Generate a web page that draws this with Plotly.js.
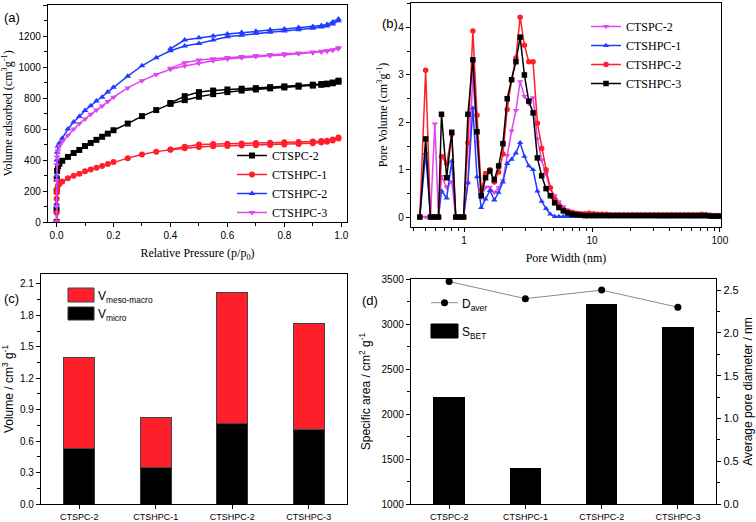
<!DOCTYPE html>
<html><head><meta charset="utf-8">
<script src="https://cdn.plot.ly/plotly-3.0.1.min.js"></script>
<style>html,body{margin:0;padding:0;background:#fff}#chart{width:756px;height:522px}</style>
</head><body><div id="chart"></div>
<script>
// ---------- Panel (a): N2 isotherms ----------
const pAds = [0.00001,0.0001,0.0005,0.001,0.002,0.005,0.01,0.02,0.04,0.06,0.08,0.1,0.12,0.14,0.16,0.18,0.2,0.25,0.3,0.35,0.4,0.45,0.5,0.55,0.6,0.65,0.7,0.75,0.8,0.85,0.9,0.93,0.95,0.97,0.99];
const pDes = [0.99,0.97,0.95,0.93,0.9,0.85,0.8,0.75,0.7,0.65,0.6,0.55,0.5,0.45,0.4];
const ctspc2Ads  = [0,80,200,280,330,360,375,395,420,445,465,490,510,530,550,570,592,635,683,722,762,786,808,825,838,848,855,862,868,873,880,885,889,895,905];
const ctspc2Des  = [912,900,893,890,886,880,875,870,864,860,855,848,838,812,768];
const ctshpc1Ads = [0,60,150,190,215,235,245,262,282,298,312,328,338,350,362,375,387,412,435,454,466,476,484,488,491,493,495,497,500,504,508,513,518,526,538];
const ctshpc1Des = [545,532,525,522,520,516,514,511,509,507,505,503,500,486,468];
const ctshpc2Ads = [0,120,300,400,450,490,510,540,600,645,680,720,750,780,805,838,870,941,1008,1060,1105,1135,1152,1174,1195,1205,1217,1225,1232,1240,1250,1258,1265,1278,1298];
const ctshpc2Des = [1310,1290,1275,1268,1262,1255,1245,1238,1230,1222,1213,1200,1189,1174,1118];
const ctshpc3Ads = [0,100,270,370,420,460,490,520,560,600,635,665,695,722,748,778,805,865,912,952,985,1006,1025,1040,1052,1060,1067,1073,1078,1085,1092,1097,1102,1108,1118];
const ctshpc3Des = [1125,1112,1106,1101,1097,1091,1085,1080,1074,1068,1062,1054,1045,1028,992];

// ---------- Panel (b): pore size distribution ----------
const poreWidth = [0.45,0.50,0.545,0.59,0.63,0.665,0.73,0.80,0.86,0.92,0.99,
  1.07,1.17,1.26,1.36,1.47,1.59,1.72,1.86,2.01,2.17,2.35,2.54,2.74,2.96,3.20,3.46,3.74,4.04,4.37,4.72,5.10,5.51,5.96,6.44,6.96,7.52,8.13,8.79,9.50,
  10.3,11.1,12.0,13.0,14.0,15.2,16.4,17.7,19.2,20.7,22.4,24.2,26.2,28.3,30.6,33.0,35.7,38.6,41.7,45.1,48.7,52.7,56.9,61.5,66.5,71.9,77.7,84.0,90.8,98.2];
const pvCTSPC2  = [0,0,0,1.97,0,0.86,0.63,0.75,0,0,0,
  0.72,3.02,1.57,0.42,0.63,0.63,0.52,0.62,0.77,1.30,1.82,2.25,2.86,2.55,2.40,2.52,1.65,1.20,0.92,0.60,0.45,0.32,0.22,0.15,0.12,0.10,0.08,0.07,0.06,
  0.05,0.04,0.04,0.03,0.03,0.03,0.03,0.02,0.02,0.02,0.02,0.02,0.02,0.02,0.02,0.01,0.01,0.01,0.01,0.01,0.01,0.01,0.01,0.01,0.01,0.01,0.01,0.01,0.01,0.01];
const pvCTSHPC1 = [0,1.35,0,0,0,0.55,0.40,1.18,0,0,0,
  0.72,2.30,0.85,0.20,0.38,0.56,0.36,0.52,0.74,1.13,1.22,1.35,1.57,1.28,1.08,1.00,0.55,0.33,0.18,0.06,0.01,0.01,0.01,0.01,0.01,0.01,0.01,0.01,0.02,
  0.03,0.03,0.04,0.04,0.04,0.04,0.04,0.04,0.04,0.04,0.04,0.04,0.04,0.04,0.04,0.04,0.04,0.04,0.04,0.04,0.04,0.04,0.04,0.04,0.04,0.04,0.04,0.04,0.04,0.04];
const pvCTSHPC2 = [0,3.10,0,0,0,1.28,1.13,1.75,0,0,0,
  1.57,3.93,2.15,0.57,0.92,1.00,0.74,0.95,1.33,2.27,2.90,3.36,4.22,3.63,3.28,3.28,1.98,1.45,1.00,0.62,0.38,0.24,0.16,0.12,0.10,0.08,0.07,0.07,0.08,
  0.07,0.06,0.06,0.06,0.05,0.05,0.05,0.05,0.05,0.05,0.05,0.05,0.05,0.05,0.05,0.05,0.05,0.05,0.05,0.05,0.05,0.05,0.05,0.05,0.05,0.06,0.05,0.04,0.03,0.02];
const pvCTSHPC3 = [0,1.65,0,0,0,2.17,0.83,1.79,0,0,0,
  2.17,3.32,1.80,0.45,0.83,0.97,0.79,1.08,1.55,2.50,2.90,3.28,3.80,3.00,2.45,2.20,1.25,0.87,0.60,0.45,0.30,0.20,0.13,0.09,0.06,0.05,0.04,0.03,0.03,
  0.03,0.03,0.03,0.03,0.03,0.03,0.03,0.03,0.03,0.03,0.03,0.03,0.03,0.03,0.03,0.03,0.03,0.03,0.03,0.03,0.03,0.03,0.03,0.03,0.03,0.03,0.03,0.02,0.02,0.02];

// ---------- Panels (c) and (d) ----------
const samples = ['CTSPC-2','CTSHPC-1','CTSHPC-2','CTSHPC-3'];
const vMicro = [0.53,0.35,0.77,0.71];
const vMesoMacro = [0.87,0.48,1.25,1.01];
const sBET = [2180,1390,3212,2965];
const dAver = [2.6,2.4,2.5,2.3];

const BLACK='#000000', RED='#ff1f2a', BLUE='#1f3cff', MAG='#de45f0';
const serif='Liberation Serif, Times New Roman, serif';
const sans='Liberation Sans, Arial, sans-serif';

function iso(name, ads, des, color, sym){
  return {type:'scatter', mode:'lines+markers', name:name, xaxis:'x', yaxis:'y', legend:'legend',
    x: pAds.concat(pDes), y: ads.concat(des),
    line:{color:color,width:1.5}, marker:{symbol:sym,size:6,color:color}};
}
function psd(name, vals, color, sym){
  return {type:'scatter', mode:'lines+markers', name:name, xaxis:'x2', yaxis:'y2', legend:'legend2',
    x: poreWidth, y: vals, line:{color:color,width:1.5}, marker:{symbol:sym,size:5.5,color:color}};
}

const traces = [
  iso('CTSPC-2', ctspc2Ads, ctspc2Des, BLACK, 'square'),
  iso('CTSHPC-1', ctshpc1Ads, ctshpc1Des, RED, 'circle'),
  iso('CTSHPC-2', ctshpc2Ads, ctshpc2Des, BLUE, 'triangle-up'),
  iso('CTSHPC-3', ctshpc3Ads, ctshpc3Des, MAG, 'triangle-down'),
  psd('CTSPC-2', pvCTSPC2, MAG, 'triangle-down'),
  psd('CTSHPC-1', pvCTSHPC1, BLUE, 'triangle-up'),
  psd('CTSHPC-2', pvCTSHPC2, RED, 'circle'),
  psd('CTSHPC-3', pvCTSHPC3, BLACK, 'square'),
  {type:'bar', x:samples, y:vMicro, xaxis:'x3', yaxis:'y3', width:0.4, showlegend:false,
   marker:{color:BLACK, line:{color:'#333',width:1}}},
  {type:'bar', x:samples, y:vMesoMacro, xaxis:'x3', yaxis:'y3', width:0.4, showlegend:false,
   marker:{color:RED, line:{color:'#444',width:1}}},
  {type:'bar', x:samples, y:sBET, xaxis:'x4', yaxis:'y4', width:0.4, showlegend:false, base:0,
   marker:{color:BLACK, line:{color:BLACK,width:1}}},
  {type:'scatter', mode:'lines+markers', x:samples, y:dAver, xaxis:'x4', yaxis:'y5', showlegend:false,
   line:{color:'#8a8a8a',width:1}, marker:{color:BLACK,size:7,symbol:'circle'}}
];

const W=756,H=522;
const px=v=>v/W, py=v=>1-v/H;
const ax = (o)=>Object.assign({showline:true, linecolor:'#000', linewidth:1.2, mirror:true, ticks:'outside',
  ticklen:4, tickwidth:1, tickcolor:'#000', showgrid:false, zeroline:false,
  tickfont:{family:sans,size:10,color:'#000'}}, o);

const layout = {
  width:W, height:H, margin:{l:0,r:0,t:0,b:0}, paper_bgcolor:'#fff', plot_bgcolor:'#fff',
  barmode:'stack', showlegend:true,
  xaxis: ax({domain:[px(48),px(347)], anchor:'y', range:[-0.03,1.02], tickvals:[0,0.2,0.4,0.6,0.8,1.0], tickformat:'.1f',
    minor:{ticks:'outside',ticklen:2.5,dtick:0.1,tickcolor:'#000'},
    title:{text:'Relative Pressure (p/p<sub>0</sub>)', font:{family:serif,size:12,color:'#000'}, standoff:8}}),
  yaxis: ax({domain:[py(222),py(5)], anchor:'x', range:[0,1400], dtick:200,
    minor:{ticks:'outside',ticklen:2.5,dtick:100,tickcolor:'#000'},
    title:{text:'Volume adsorbed (cm<sup>3</sup>g<sup>-1</sup>)', font:{family:serif,size:12,color:'#000'}, standoff:6}}),
  xaxis2: ax({domain:[px(411),px(721)], anchor:'y2', type:'log', range:[Math.log10(0.384),Math.log10(102)],
    tickvals:[1,10,100], ticktext:['1','10','100'],
    minor:{ticks:'outside',ticklen:2.5,tickvals:[0.4,0.5,0.6,0.7,0.8,0.9,2,3,4,5,6,7,8,9,20,30,40,50,60,70,80,90],tickcolor:'#000'},
    title:{text:'Pore Width (nm)', font:{family:serif,size:12,color:'#000'}, standoff:8}}),
  yaxis2: ax({domain:[py(227),py(3)], anchor:'x2', range:[-0.21,4.52], dtick:1, tick0:0,
    minor:{ticks:'outside',ticklen:2.5,dtick:0.5,tickcolor:'#000'},
    title:{text:'Pore Volume (cm<sup>3</sup>g<sup>-1</sup>)', font:{family:serif,size:12,color:'#000'}, standoff:8}}),
  xaxis3: ax({domain:[px(41),px(347)], anchor:'y3', type:'category', range:[-0.5,3.5], mirror:true,
    tickfont:{family:sans,size:9,color:'#000'}}),
  yaxis3: ax({domain:[py(504),py(274)], anchor:'x3', range:[0,2.195], dtick:0.3, tickformat:'.1f',
    minor:{ticks:'outside',ticklen:2.5,dtick:0.15,tickcolor:'#000'},
    title:{text:'Volume / cm<sup>3</sup> g<sup>-1</sup>', font:{family:sans,size:12,color:'#000'}, standoff:8}}),
  xaxis4: ax({domain:[px(411),px(716)], anchor:'y4', type:'category', range:[-0.5,3.5], mirror:true,
    tickfont:{family:sans,size:9,color:'#000'}}),
  yaxis4: ax({domain:[py(504),py(279)], anchor:'x4', range:[1000,3500], dtick:500, mirror:false,
    minor:{ticks:'outside',ticklen:2.5,dtick:250,tickcolor:'#000'},
    title:{text:'Specific area / cm<sup>2</sup> g<sup>-1</sup>', font:{family:sans,size:12,color:'#000'}, standoff:8}}),
  yaxis5: ax({overlaying:'y4', side:'right', anchor:'x4', range:[0,2.63], dtick:0.5, tickformat:'.1f', mirror:false,
    minor:{ticks:'outside',ticklen:2.5,dtick:0.25,tickcolor:'#000'}, tickfont:{family:sans,size:11,color:'#000'},
    title:{text:'Average pore diameter / nm', font:{family:sans,size:12,color:'#000'}, standoff:6}}),
  legend: {x:px(232), y:py(141), xanchor:'left', yanchor:'top', bgcolor:'rgba(0,0,0,0)', traceorder:'normal',
    font:{family:serif,size:12,color:'#000'}, itemwidth:30, tracegroupgap:0},
  legend2: {x:px(586), y:py(12), xanchor:'left', yanchor:'top', bgcolor:'rgba(0,0,0,0)', traceorder:'normal',
    font:{family:serif,size:12,color:'#000'}, itemwidth:30, tracegroupgap:0},
  shapes: [
    {type:'rect', xref:'paper', yref:'paper', x0:px(68), x1:px(94), y0:py(302), y1:py(288), fillcolor:RED, line:{color:'#444',width:1}},
    {type:'rect', xref:'paper', yref:'paper', x0:px(68), x1:px(94), y0:py(320), y1:py(307), fillcolor:BLACK, line:{color:'#333',width:1}},
    {type:'line', xref:'paper', yref:'paper', x0:px(431), x1:px(458), y0:py(302.7), y1:py(302.7), line:{color:'#8a8a8a',width:1}},
    {type:'circle', xref:'paper', yref:'paper', x0:px(441), x1:px(448), y0:py(306.2), y1:py(299.2), fillcolor:BLACK, line:{color:BLACK,width:0}},
    {type:'rect', xref:'paper', yref:'paper', x0:px(431), x1:px(458), y0:py(338), y1:py(324), fillcolor:BLACK, line:{color:BLACK,width:1}}
  ],
  annotations: [
    {text:'(a)', x:px(2), y:py(17), xref:'paper', yref:'paper', xanchor:'left', yanchor:'middle', showarrow:false, font:{family:sans,size:13,color:'#000'}},
    {text:'(b)', x:px(380), y:py(23), xref:'paper', yref:'paper', xanchor:'left', yanchor:'middle', showarrow:false, font:{family:sans,size:13,color:'#000'}},
    {text:'(c)', x:px(2), y:py(298), xref:'paper', yref:'paper', xanchor:'left', yanchor:'middle', showarrow:false, font:{family:sans,size:13,color:'#000'}},
    {text:'(d)', x:px(360), y:py(300), xref:'paper', yref:'paper', xanchor:'left', yanchor:'middle', showarrow:false, font:{family:sans,size:13,color:'#000'}},
    {text:'V<sub>meso-macro</sub>', x:px(96), y:py(297), xref:'paper', yref:'paper', xanchor:'left', yanchor:'middle', showarrow:false, font:{family:sans,size:12,color:'#000'}},
    {text:'V<sub>micro</sub>', x:px(96), y:py(315), xref:'paper', yref:'paper', xanchor:'left', yanchor:'middle', showarrow:false, font:{family:sans,size:12,color:'#000'}},
    {text:'D<sub>aver</sub>', x:px(460), y:py(305), xref:'paper', yref:'paper', xanchor:'left', yanchor:'middle', showarrow:false, font:{family:sans,size:12,color:'#000'}},
    {text:'S<sub>BET</sub>', x:px(460), y:py(333), xref:'paper', yref:'paper', xanchor:'left', yanchor:'middle', showarrow:false, font:{family:sans,size:12,color:'#000'}}
  ]
};

Plotly.newPlot('chart', traces, layout, {displayModeBar:false, staticPlot:true});
</script></body></html>
